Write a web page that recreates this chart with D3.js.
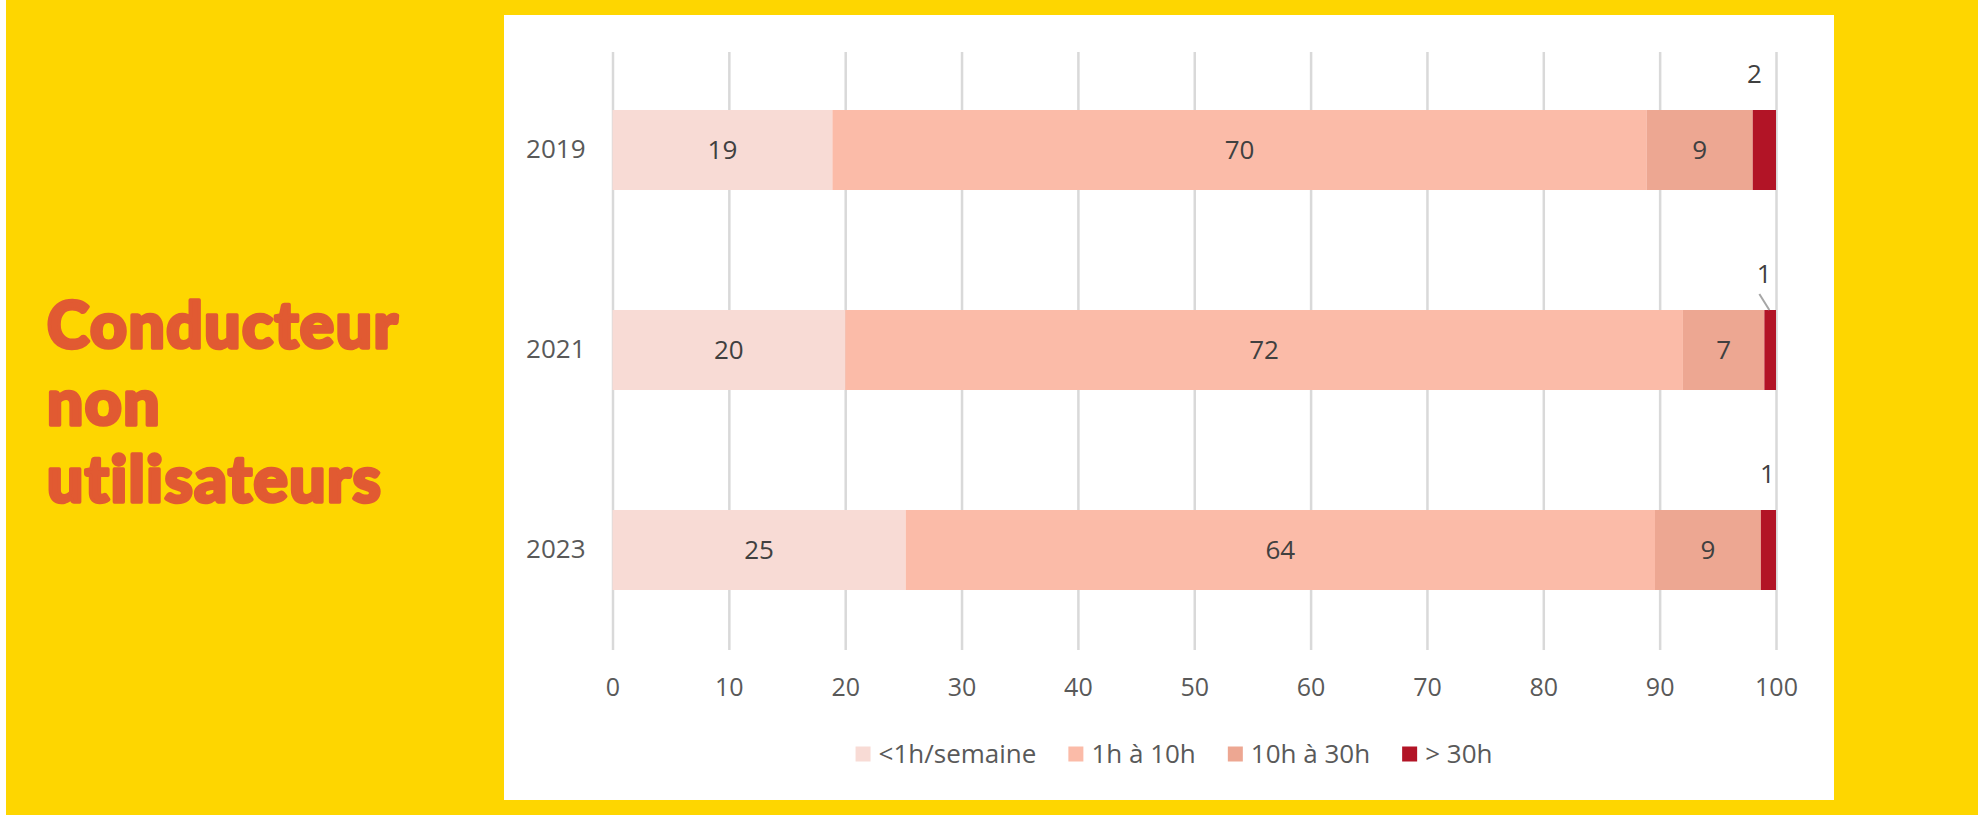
<!DOCTYPE html>
<html>
<head>
<meta charset="utf-8">
<script src="https://cdn.jsdelivr.net/npm/d3@7"></script>
<style>
  body { margin: 0; background: #FED600; }
  svg { display: block; }
</style>
</head>
<body>
<div class="canvas"></div>
<script>
const years = ['2019', '2021', '2023'];
const seriesNames = ['<1h/semaine', '1h à 10h', '10h à 30h', '> 30h'];
const lessThan1h = [18.9, 20, 25.2];
const from1to10 = [70, 72, 64.4];
const from10to30 = [9.1, 7, 9.1];
const over30 = [2, 1, 1.3];
const xTicks = [0, 10, 20, 30, 40, 50, 60, 70, 80, 90, 100];
const titleLines = ['Conducteur', 'non', 'utilisateurs'];

const colours = ['#F8DBD5', '#FBBBA8', '#EDA792', '#B21426'];

const dims = { width: 1978, height: 815 };

const svg = d3.select('.canvas')
    .append('svg')
    .attr('width', dims.width)
    .attr('height', dims.height);

// background + white panel
svg.append('rect').attr('width', dims.width).attr('height', dims.height).attr('fill', '#FED600');
svg.append('rect').attr('width', 6).attr('height', dims.height).attr('fill', '#fff');
svg.append('rect')
    .attr('x', 504).attr('y', 15)
    .attr('width', 1330).attr('height', 785)
    .attr('fill', '#fff');

// title on the left (stroke makes it heavier and rounder)
svg.append('text')
    .attr('x', 47)
    .attr('y', 348)
    .attr('fill', '#E15A32')
    .attr('stroke', '#E15A32')
    .attr('stroke-width', 3.5)
    .attr('stroke-linejoin', 'round')
    .style('font-family', 'Lato, "Open Sans", sans-serif')
    .style('font-weight', 900)
    .style('font-size', '64px')
    .style('letter-spacing', '1.5px')
    .style('font-variant-ligatures', 'none')
    .selectAll('tspan')
    .data(titleLines)
    .enter()
    .append('tspan')
    .attr('x', 47)
    .attr('dy', (d, i) => i === 0 ? 0 : 77)
    .text(d => d);

// stacked data
const table = years.map((y, i) => ({
    year: y,
    [seriesNames[0]]: lessThan1h[i],
    [seriesNames[1]]: from1to10[i],
    [seriesNames[2]]: from10to30[i],
    [seriesNames[3]]: over30[i]
}));
const stacked = d3.stack().keys(seriesNames)(table);

const x = d3.scaleLinear().domain([0, 100]).range([612.5, 1776]);
const y = d3.scaleBand().domain(years).range([50, 650]).paddingInner(0.6).paddingOuter(0.3);

const font = 'Open Sans, "Noto Sans", sans-serif';

// gridlines + x labels
const xAxis = svg.append('g')
    .attr('transform', 'translate(0, 650)')
    .call(d3.axisBottom(x).tickValues(xTicks).tickSize(-598).tickPadding(28));
xAxis.select('.domain').remove();
xAxis.selectAll('line').attr('stroke', '#D9D9D9').attr('stroke-width', 2.5);
xAxis.selectAll('text')
    .attr('fill', '#595959')
    .style('font-family', font)
    .style('font-size', '25px');

// y labels
const yAxis = svg.append('g')
    .attr('transform', `translate(${x(0)}, 0)`)
    .call(d3.axisLeft(y).tickSize(0).tickPadding(27));
yAxis.select('.domain').remove();
yAxis.selectAll('text')
    .attr('fill', '#595959')
    .style('font-family', font)
    .style('font-size', '26px');

// bars
const layers = svg.append('g').selectAll('g')
    .data(stacked)
    .enter()
    .append('g')
    .attr('fill', (d, i) => colours[i]);

layers.selectAll('rect')
    .data(d => d)
    .enter()
    .append('rect')
    .attr('x', d => x(d[0]))
    .attr('y', d => y(d.data.year))
    .attr('width', d => x(d[1]) - x(d[0]))
    .attr('height', y.bandwidth());

// labels inside the first three segments
stacked.slice(0, 3).forEach(layer => {
    svg.append('g').selectAll('text')
        .data(layer)
        .enter()
        .append('text')
        .attr('x', d => (x(d[0]) + x(d[1])) / 2)
        .attr('y', d => y(d.data.year) + y.bandwidth() / 2)
        .attr('dy', '0.36em')
        .attr('text-anchor', 'middle')
        .attr('fill', '#404040')
        .style('font-family', font)
        .style('font-size', '26px')
        .text(d => Math.round(d[1] - d[0]));
});

// labels of the thin last segment sit above the bar
const outerShift = [-10, -6, -1];
const last = stacked[3];
svg.append('g').selectAll('text')
    .data(last)
    .enter()
    .append('text')
    .attr('x', (d, i) => (x(d[0]) + x(d[1])) / 2 + outerShift[i])
    .attr('y', d => y(d.data.year) - 36)
    .attr('dy', '0.36em')
    .attr('text-anchor', 'middle')
    .attr('fill', '#404040')
    .style('font-family', font)
    .style('font-size', '26px')
    .text(d => Math.round(d[1] - d[0]));

// leader line for 2021
const d21 = last[1];
svg.append('line')
    .attr('x1', x(d21[0]) - 5)
    .attr('y1', y(d21.data.year) - 16)
    .attr('x2', x(d21[0]) + 5)
    .attr('y2', y(d21.data.year))
    .attr('stroke', '#A6A6A6')
    .attr('stroke-width', 2);

// legend
const legend = svg.append('g');
let cursor = 0;
seriesNames.forEach((name, i) => {
    const item = legend.append('g').attr('transform', `translate(${cursor}, 0)`);
    item.append('rect')
        .attr('x', 0).attr('y', -7.5)
        .attr('width', 15).attr('height', 15)
        .attr('fill', colours[i]);
    const t = item.append('text')
        .attr('x', 23)
        .attr('dy', '0.35em')
        .attr('fill', '#595959')
        .style('font-family', font)
        .style('font-size', '26px')
        .text(name);
    cursor += 23 + t.node().getComputedTextLength() + 32;
});
const legendWidth = cursor - 32;
legend.attr('transform', `translate(${1174 - legendWidth / 2}, 754)`);
</script>
</body>
</html>
